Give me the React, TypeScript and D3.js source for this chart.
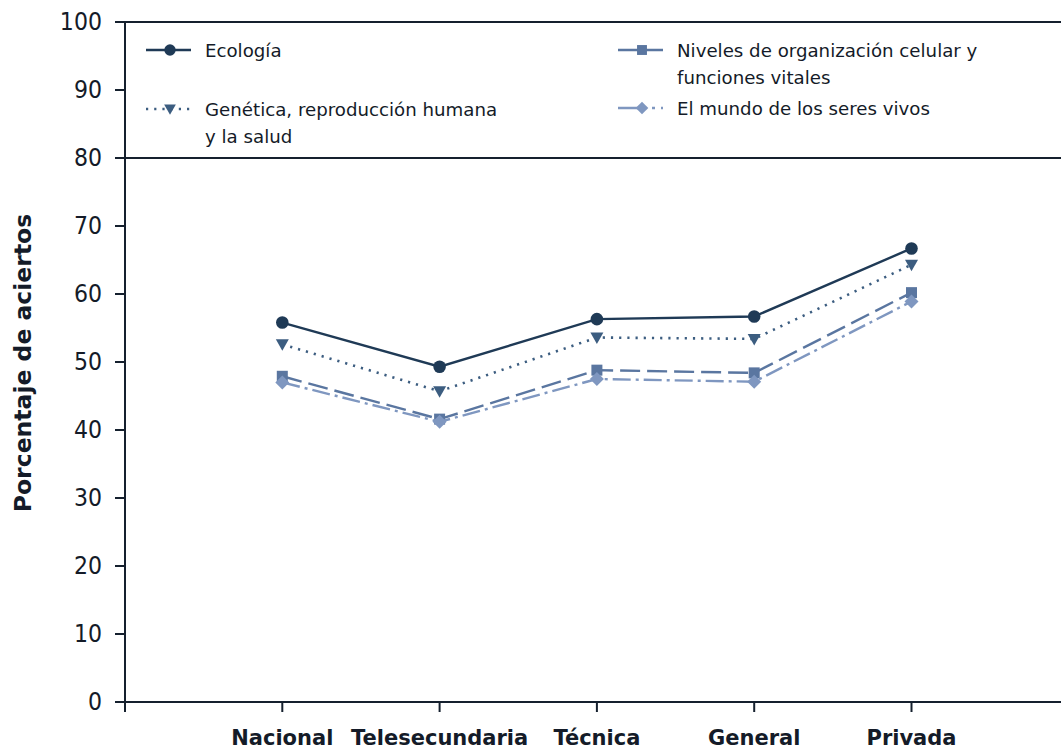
import React from "react";
import * as d3 from "d3";

const categories = ["Nacional", "Telesecundaria", "Técnica", "General", "Privada"];
const ecologia = [55.8, 49.3, 56.3, 56.7, 66.7];
const genetica = [52.6, 45.7, 53.6, 53.4, 64.3];
const niveles = [47.9, 41.6, 48.8, 48.4, 60.2];
const mundo = [47.0, 41.2, 47.5, 47.1, 58.9];
const yTicks = [0, 10, 20, 30, 40, 50, 60, 70, 80, 90, 100];

const W = 1061;
const H = 748;
const left = 125;
const top = 22;
const bottom = 702;
const step = 157.3;

type Series = {
  name: string[];
  values: number[];
  color: string;
  dash: string;
  marker: "circle" | "triangle" | "square" | "diamond";
  lx: number;
  ly: number;
};

const series: Series[] = [
  { name: ["Ecología"], values: ecologia, color: "#1f3a56", dash: "none", marker: "circle", lx: 170, ly: 50 },
  { name: ["Genética, reproducción humana", "y la salud"], values: genetica, color: "#3c5d80", dash: "2.2 6", marker: "triangle", lx: 170, ly: 109 },
  { name: ["Niveles de organización celular y", "funciones vitales"], values: niveles, color: "#5a76a0", dash: "20 7", marker: "square", lx: 642, ly: 50 },
  { name: ["El mundo de los seres vivos"], values: mundo, color: "#7f97c0", dash: "18 5 3 5", marker: "diamond", lx: 642, ly: 108 },
];

function Marker({ type, x, y, color, s = 1 }: { type: string; x: number; y: number; color: string; s?: number }) {
  if (type === "circle") return <circle cx={x} cy={y} r={6.3 * s} fill={color} />;
  if (type === "square") {
    const h = 5.5 * s;
    return <rect x={x - h} y={y - h} width={2 * h} height={2 * h} fill={color} />;
  }
  if (type === "triangle") {
    const w = 6.5 * s;
    return <path d={`M${x - w},${y - 5 * s}L${x + w},${y - 5 * s}L${x},${y + 6.5 * s}Z`} fill={color} />;
  }
  const r = 7 * s;
  return <path d={`M${x},${y - r}L${x + r},${y}L${x},${y + r}L${x - r},${y}Z`} fill={color} />;
}

export default function App() {
  const x = d3.scaleLinear().domain([-1, 0]).range([left, left + step]);
  const y = d3.scaleLinear().domain([0, 100]).range([bottom, top]);
  const line = d3
    .line<number>()
    .x((_, i) => x(i))
    .y((d) => y(d));
  const axisColor = "#15202e";
  const textColor = "#141b28";
  const xTickIdx = d3.range(-1, categories.length);

  return (
    <div style={{ position: "absolute", left: 0, top: 0 }}>
      <svg width={W} height={H} style={{ display: "block", fontFamily: "'DejaVu Sans', Verdana, sans-serif" }}>
        <rect width={W} height={H} fill="#ffffff" />
        <line x1={left} x2={W} y1={y(100)} y2={y(100)} stroke={axisColor} strokeWidth={2} />
        <line x1={left} x2={W} y1={y(80)} y2={y(80)} stroke={axisColor} strokeWidth={2} />
        <line x1={left} x2={left} y1={y(100)} y2={y(0)} stroke={axisColor} strokeWidth={2} />
        <line x1={left} x2={W} y1={y(0)} y2={y(0)} stroke={axisColor} strokeWidth={2} />
        {yTicks.map((t) => (
          <g key={t}>
            <line x1={left - 10} x2={left} y1={y(t)} y2={y(t)} stroke={axisColor} strokeWidth={2} />
            <text x={102} y={y(t) + 8.5} textAnchor="end" fontSize={24} fill={textColor} transform={`translate(102,0) scale(0.92,1) translate(-102,0)`}>
              {t}
            </text>
          </g>
        ))}
        {xTickIdx.map((i) => (
          <line key={i} x1={x(i)} x2={x(i)} y1={y(0)} y2={y(0) + 10} stroke={axisColor} strokeWidth={2} />
        ))}
        {categories.map((c, i) => (
          <text key={c} x={x(i)} y={745} textAnchor="middle" fontSize={21} fontWeight="bold" fill={textColor}>
            {c}
          </text>
        ))}
        <text
          transform={`translate(31,363) rotate(-90)`}
          textAnchor="middle"
          fontSize={23.5}
          fontWeight="bold"
          fill={textColor}
        >
          Porcentaje de aciertos
        </text>
        {series.map((s) => (
          <g key={s.name[0]}>
            <path
              d={line(s.values) || ""}
              fill="none"
              stroke={s.color}
              strokeWidth={s.marker === "triangle" ? 2.6 : 2.4}
              strokeDasharray={s.dash}
            />
            {s.values.map((v, i) => (
              <Marker key={i} type={s.marker} x={x(i)} y={y(v)} color={s.color} />
            ))}
          </g>
        ))}
        {series.map((s) => (
          <g key={"lg" + s.name[0]}>
            <line
              x1={s.lx - 24}
              x2={s.lx + 21}
              y1={s.ly}
              y2={s.ly}
              stroke={s.color}
              strokeWidth={2.4}
              strokeDasharray={s.dash === "none" ? "none" : s.marker === "triangle" ? "2.2 6" : s.marker === "diamond" ? "28 6 3 6" : "none"}
            />
            <Marker type={s.marker} x={s.lx} y={s.ly} color={s.color} s={0.9} />
            {s.name.map((t, k) => (
              <text key={k} x={s.lx + 35} y={s.ly + 7 + k * 27} fontSize={18.2} fill={textColor}>
                {t}
              </text>
            ))}
          </g>
        ))}
      </svg>
    </div>
  );
}
